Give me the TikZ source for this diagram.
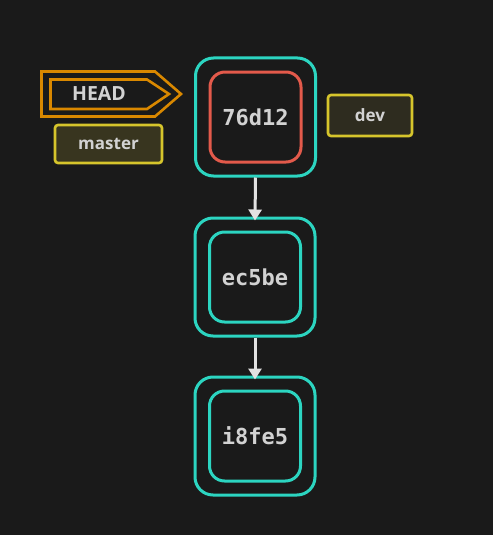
\documentclass[tikz,border=0pt]{standalone}
\usepackage{fontspec}
\setmainfont{Open Sans}
\newfontfamily\monof{DejaVu Sans Mono}
\usetikzlibrary{arrows.meta}
\definecolor{bg}{HTML}{1A1A1A}
\definecolor{cyanc}{HTML}{2CD5C1}
\definecolor{redc}{HTML}{E35A4B}
\definecolor{orangec}{HTML}{D98800}
\definecolor{yellowc}{HTML}{D6C52C}
\definecolor{olivec}{HTML}{38351F}
\definecolor{olived}{HTML}{2E2C1F}
\definecolor{txtc}{HTML}{D2D2D2}
\definecolor{arrc}{HTML}{E2E2E2}
\tikzset{
  outerbox/.style={draw=cyanc, line width=3pt, rounded corners=18pt, minimum width=120pt, minimum height=118pt, inner sep=0pt},
  innerbox/.style={draw=cyanc, line width=3pt, rounded corners=15pt, minimum width=91pt, minimum height=90pt, inner sep=0pt, text=txtc, font=\monof\bfseries\fontsize{22}{24}\selectfont},
  redbox/.style={innerbox, draw=redc},
  branch/.style={draw=yellowc, line width=2.6pt, rounded corners=3pt, inner sep=0pt, text=txtc, font=\bfseries\fontsize{17}{19}\selectfont},
  headline/.style={draw=orangec, line width=2.6pt, line join=miter},
  link/.style={draw=arrc, line width=3pt, -{Triangle[width=13pt,length=11pt]}},
}
\begin{document}
\begin{tikzpicture}[x=1pt,y=-1pt]
\fill[bg] (0,0) rectangle (493,535);
\useasboundingbox (0,0) rectangle (493,535);
% commits
\node[outerbox] (c1o) at (255.5,117) {};
\node[redbox] (c1) at (255.5,117) {76d12};
\node[outerbox] (c2o) at (255,277) {};
\node[innerbox] (c2) at (255,277) {ec5be};
\node[outerbox] (c3o) at (255,436) {};
\node[innerbox] (c3) at (255,436) {i8fe5};
% links
\draw[link] (c1o.south) -- ([yshift=-4pt]c2o.north);
\draw[link] (c2o.south) -- ([yshift=-4pt]c3o.north);
% branches
\node[branch, fill=olivec, minimum width=107pt, minimum height=38pt] (master) at (108.5,144) {master};
\node[branch, fill=olived, minimum width=84pt, minimum height=41pt] (dev) at (370,115.5) {dev};
% HEAD
\fill[bg] (41.5,71.5) -- (155,71.5) -- (181,94) -- (155,116.5) -- (41.5,116.5) -- cycle;
\draw[headline] (41.5,71.5) -- (155,71.5) -- (181,94) -- (155,116.5) -- (41.5,116.5) -- cycle;
\draw[headline] (50.5,79.5) -- (147,79.5) -- (169,94) -- (147,109) -- (50.5,109) -- cycle;
\node[text=txtc, font=\bfseries\fontsize{19.5}{21}\selectfont, inner sep=0pt] (head) at (99,94) {HEAD};
\end{tikzpicture}
\end{document}
